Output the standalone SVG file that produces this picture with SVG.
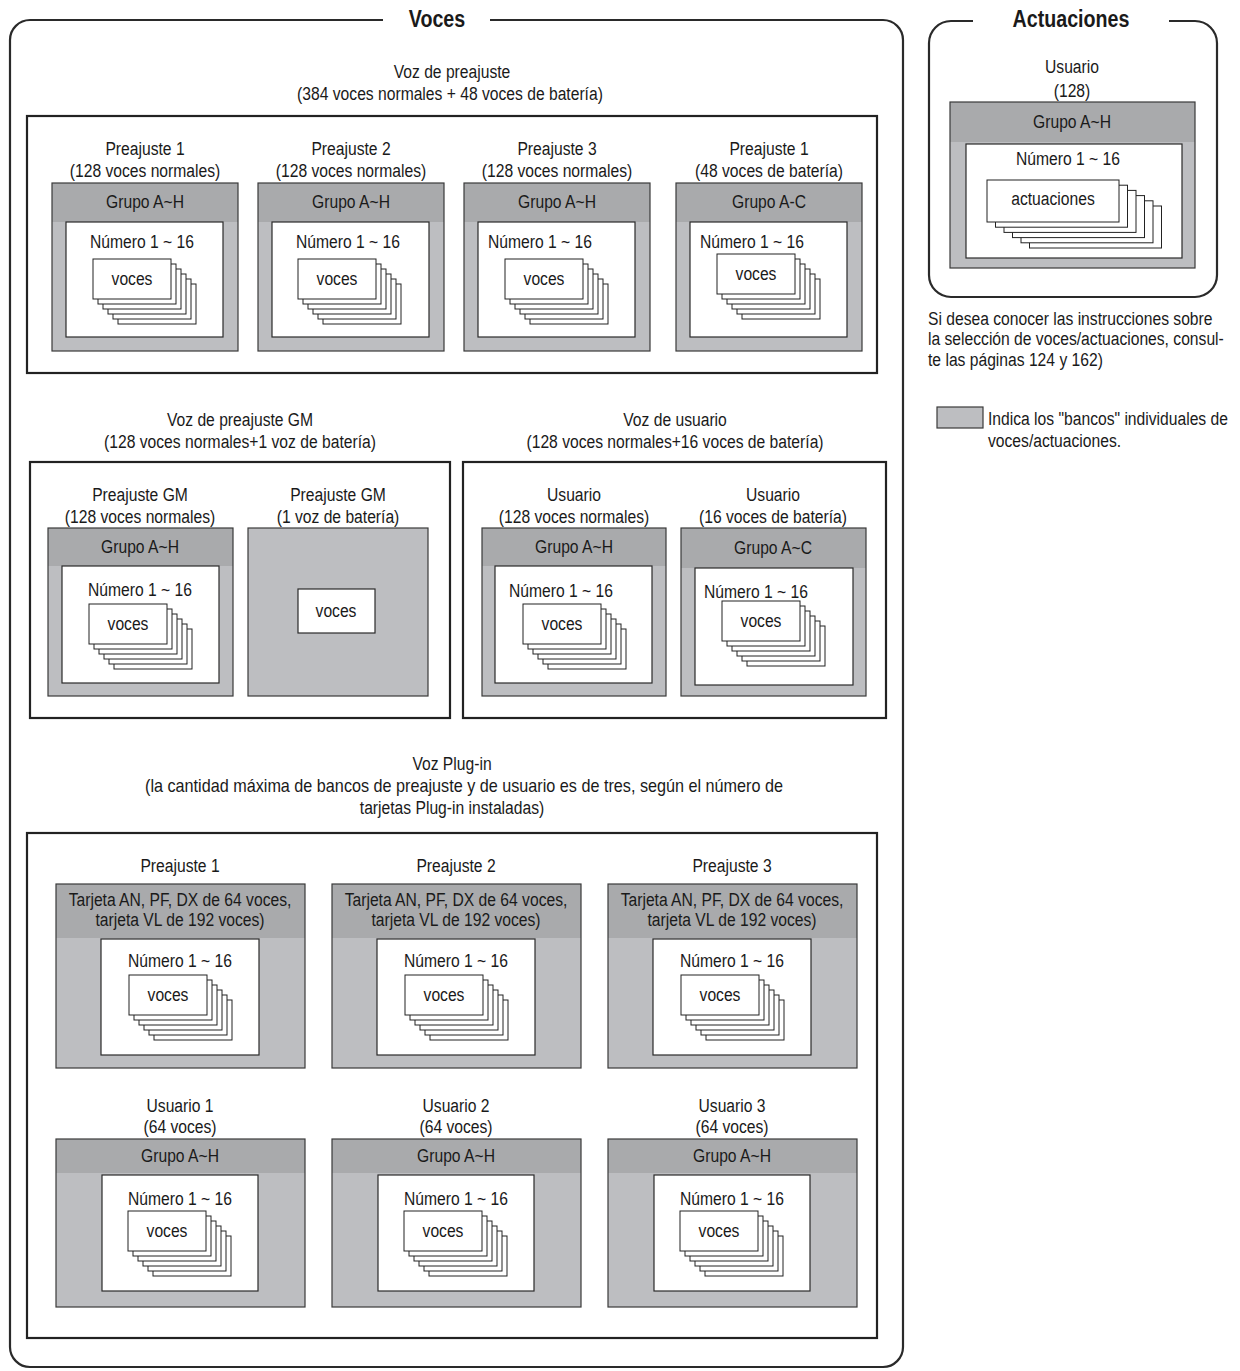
<svg xmlns="http://www.w3.org/2000/svg" xmlns:xlink="http://www.w3.org/1999/xlink" width="1240" height="1371" viewBox="0 0 1240 1371">
  <style>
    .t { font-family: "Liberation Sans", Arial, Helvetica, sans-serif; font-size: 18px; fill: #1a1a1a; text-anchor: middle; }
    .ts { font-family: "Liberation Sans", Arial, Helvetica, sans-serif; font-size: 18px; fill: #1a1a1a; text-anchor: start; }
    .title { font-family: "Liberation Sans", Arial, Helvetica, sans-serif; font-size: 24px; font-weight: bold; fill: #1a1a1a; text-anchor: middle; }
    .frame { fill: none; stroke: #2a2a2a; stroke-width: 2.2; }
    .section { fill: #ffffff; stroke: #222222; stroke-width: 2.2; }
    .body { fill: #bdbec1; }
    .head { fill: #a9aaac; }
    .edge { fill: none; stroke: #3a3a3a; stroke-width: 1.2; }
    .inner { fill: #ffffff; stroke: #2a2a2a; stroke-width: 1.2; }
    .card { fill: #ffffff; stroke: #222222; stroke-width: 1; }
  </style>
  <defs>
    <!-- stack of six voice cards, drawn back to front -->
    <g id="stk">
      <rect class="card" x="25" y="25" width="78" height="40"/>
      <rect class="card" x="20" y="20" width="78" height="40"/>
      <rect class="card" x="15" y="15" width="78" height="40"/>
      <rect class="card" x="10" y="10" width="78" height="40"/>
      <rect class="card" x="5" y="5" width="78" height="40"/>
      <rect class="card" x="0" y="0" width="78" height="40"/>
    </g>
    <!-- wider stack for performances -->
    <g id="stkA">
      <rect class="card" x="42.5" y="26" width="132" height="42"/>
      <rect class="card" x="34" y="20.8" width="132" height="42"/>
      <rect class="card" x="25.5" y="15.6" width="132" height="42"/>
      <rect class="card" x="17" y="10.4" width="132" height="42"/>
      <rect class="card" x="8.5" y="5.2" width="132" height="42"/>
      <rect class="card" x="0" y="0" width="132" height="42"/>
    </g>
  </defs>

  <rect width="1240" height="1371" fill="#ffffff"/>

  <!-- ===== Voces frame ===== -->
  <g id="voces-frame">
    <path class="frame" d="M383,20 H30 A20,20 0 0 0 10,40 V1347 A20,20 0 0 0 30,1367 H883 A20,20 0 0 0 903,1347 V40 A20,20 0 0 0 883,20 H490"/>
    <text class="title" transform="matrix(0.82 0 0 1 437 27)">Voces</text>
  </g>

  <!-- ===== Actuaciones frame ===== -->
  <g id="actuaciones-frame">
    <path class="frame" d="M973,21 H951 A22,22 0 0 0 929,43 V275 A22,22 0 0 0 951,297 H1195 A22,22 0 0 0 1217,275 V43 A22,22 0 0 0 1195,21 H1169"/>
    <text class="title" transform="matrix(0.82 0 0 1 1071 27)">Actuaciones</text>
  </g>

  <g id="perf-user">
    <text class="t" transform="matrix(0.87 0 0 1 1072 73)">Usuario</text>
    <text class="t" transform="matrix(0.87 0 0 1 1072 97)">(128)</text>
    <rect class="body" x="950" y="102" width="245" height="166"/>
    <rect class="head" x="950" y="102" width="245" height="40"/>
    <rect class="edge" x="950" y="102" width="245" height="166"/>
    <text class="t" transform="matrix(0.87 0 0 1 1072 128)">Grupo A~H</text>
    <rect class="inner" x="966" y="144" width="216" height="114"/>
    <text class="t" transform="matrix(0.87 0 0 1 1068 165)">Número 1 ~ 16</text>
    <use xlink:href="#stkA" x="987" y="180"/>
    <text class="t" transform="matrix(0.87 0 0 1 1053 205)">actuaciones</text>
  </g>

  <g id="note">
    <text class="ts" transform="matrix(0.87 0 0 1 928 325)">Si desea conocer las instrucciones sobre</text>
    <text class="ts" transform="matrix(0.87 0 0 1 928 345)">la selección de voces/actuaciones, consul-</text>
    <text class="ts" transform="matrix(0.87 0 0 1 928 366)">te las páginas 124 y 162)</text>
  </g>

  <g id="legend">
    <rect x="937" y="407" width="46" height="21" fill="#bdbec1" stroke="#3a3a3a" stroke-width="1.2"/>
    <text class="ts" transform="matrix(0.87 0 0 1 988 425)">Indica los "bancos" individuales de</text>
    <text class="ts" transform="matrix(0.87 0 0 1 988 447)">voces/actuaciones.</text>
  </g>

  <!-- ===== Preset voices ===== -->
  <g id="preset">
    <text class="t" transform="matrix(0.87 0 0 1 452 78)">Voz de preajuste</text>
    <text class="t" transform="matrix(0.87 0 0 1 450 100)">(384 voces normales + 48 voces de batería)</text>
    <rect class="section" x="27" y="116" width="850" height="257"/>
  </g>

  <g id="preset-1">
    <text class="t" transform="matrix(0.87 0 0 1 145 155)">Preajuste 1</text>
    <text class="t" transform="matrix(0.87 0 0 1 145 177)">(128 voces normales)</text>
    <rect class="body" x="52" y="183" width="186" height="168"/>
    <rect class="head" x="52" y="183" width="186" height="39"/>
    <rect class="edge" x="52" y="183" width="186" height="168"/>
    <text class="t" transform="matrix(0.87 0 0 1 145 208)">Grupo A~H</text>
    <rect class="inner" x="66" y="222" width="157" height="115"/>
    <text class="t" transform="matrix(0.87 0 0 1 142 248)">Número 1 ~ 16</text>
    <use xlink:href="#stk" x="93" y="259"/>
    <text class="t" transform="matrix(0.87 0 0 1 132 285)">voces</text>
  </g>

  <g id="preset-2">
    <text class="t" transform="matrix(0.87 0 0 1 351 155)">Preajuste 2</text>
    <text class="t" transform="matrix(0.87 0 0 1 351 177)">(128 voces normales)</text>
    <rect class="body" x="258" y="183" width="186" height="168"/>
    <rect class="head" x="258" y="183" width="186" height="39"/>
    <rect class="edge" x="258" y="183" width="186" height="168"/>
    <text class="t" transform="matrix(0.87 0 0 1 351 208)">Grupo A~H</text>
    <rect class="inner" x="272" y="222" width="157" height="115"/>
    <text class="t" transform="matrix(0.87 0 0 1 348 248)">Número 1 ~ 16</text>
    <use xlink:href="#stk" x="298" y="259"/>
    <text class="t" transform="matrix(0.87 0 0 1 337 285)">voces</text>
  </g>

  <g id="preset-3">
    <text class="t" transform="matrix(0.87 0 0 1 557 155)">Preajuste 3</text>
    <text class="t" transform="matrix(0.87 0 0 1 557 177)">(128 voces normales)</text>
    <rect class="body" x="464" y="183" width="186" height="168"/>
    <rect class="head" x="464" y="183" width="186" height="39"/>
    <rect class="edge" x="464" y="183" width="186" height="168"/>
    <text class="t" transform="matrix(0.87 0 0 1 557 208)">Grupo A~H</text>
    <rect class="inner" x="478" y="222" width="157" height="115"/>
    <text class="t" transform="matrix(0.87 0 0 1 540 248)">Número 1 ~ 16</text>
    <use xlink:href="#stk" x="505" y="259"/>
    <text class="t" transform="matrix(0.87 0 0 1 544 285)">voces</text>
  </g>

  <g id="preset-drum">
    <text class="t" transform="matrix(0.87 0 0 1 769 155)">Preajuste 1</text>
    <text class="t" transform="matrix(0.87 0 0 1 769 177)">(48 voces de batería)</text>
    <rect class="body" x="676" y="183" width="186" height="168"/>
    <rect class="head" x="676" y="183" width="186" height="39"/>
    <rect class="edge" x="676" y="183" width="186" height="168"/>
    <text class="t" transform="matrix(0.87 0 0 1 769 208)">Grupo A-C</text>
    <rect class="inner" x="690" y="222" width="157" height="115"/>
    <text class="t" transform="matrix(0.87 0 0 1 752 248)">Número 1 ~ 16</text>
    <use xlink:href="#stk" x="717" y="254"/>
    <text class="t" transform="matrix(0.87 0 0 1 756 280)">voces</text>
  </g>

  <!-- ===== GM preset voices ===== -->
  <g id="gm">
    <text class="t" transform="matrix(0.87 0 0 1 240 426)">Voz de preajuste GM</text>
    <text class="t" transform="matrix(0.87 0 0 1 240 448)">(128 voces normales+1 voz de batería)</text>
    <rect class="section" x="30" y="462" width="420" height="256"/>
  </g>

  <g id="gm-normal">
    <text class="t" transform="matrix(0.87 0 0 1 140 501)">Preajuste GM</text>
    <text class="t" transform="matrix(0.87 0 0 1 140 523)">(128 voces normales)</text>
    <rect class="body" x="48" y="528" width="185" height="168"/>
    <rect class="head" x="48" y="528" width="185" height="38"/>
    <rect class="edge" x="48" y="528" width="185" height="168"/>
    <text class="t" transform="matrix(0.87 0 0 1 140 553)">Grupo A~H</text>
    <rect class="inner" x="62" y="566" width="157" height="117"/>
    <text class="t" transform="matrix(0.87 0 0 1 140 596)">Número 1 ~ 16</text>
    <use xlink:href="#stk" x="89" y="604"/>
    <text class="t" transform="matrix(0.87 0 0 1 128 630)">voces</text>
  </g>

  <g id="gm-drum">
    <text class="t" transform="matrix(0.87 0 0 1 338 501)">Preajuste GM</text>
    <text class="t" transform="matrix(0.87 0 0 1 338 523)">(1 voz de batería)</text>
    <rect class="body" x="248" y="528" width="180" height="168"/>
    <rect class="edge" x="248" y="528" width="180" height="168"/>
    <rect class="inner" x="298" y="589" width="77" height="44"/>
    <text class="t" transform="matrix(0.87 0 0 1 336 617)">voces</text>
  </g>

  <!-- ===== User voices ===== -->
  <g id="user">
    <text class="t" transform="matrix(0.87 0 0 1 675 426)">Voz de usuario</text>
    <text class="t" transform="matrix(0.87 0 0 1 675 448)">(128 voces normales+16 voces de batería)</text>
    <rect class="section" x="463" y="462" width="423" height="256"/>
  </g>

  <g id="user-normal">
    <text class="t" transform="matrix(0.87 0 0 1 574 501)">Usuario</text>
    <text class="t" transform="matrix(0.87 0 0 1 574 523)">(128 voces normales)</text>
    <rect class="body" x="482" y="528" width="184" height="168"/>
    <rect class="head" x="482" y="528" width="184" height="38"/>
    <rect class="edge" x="482" y="528" width="184" height="168"/>
    <text class="t" transform="matrix(0.87 0 0 1 574 553)">Grupo A~H</text>
    <rect class="inner" x="495" y="566" width="157" height="117"/>
    <text class="t" transform="matrix(0.87 0 0 1 561 597)">Número 1 ~ 16</text>
    <use xlink:href="#stk" x="523" y="604"/>
    <text class="t" transform="matrix(0.87 0 0 1 562 630)">voces</text>
  </g>

  <g id="user-drum">
    <text class="t" transform="matrix(0.87 0 0 1 773 501)">Usuario</text>
    <text class="t" transform="matrix(0.87 0 0 1 773 523)">(16 voces de batería)</text>
    <rect class="body" x="681" y="528" width="185" height="168"/>
    <rect class="head" x="681" y="528" width="185" height="40"/>
    <rect class="edge" x="681" y="528" width="185" height="168"/>
    <text class="t" transform="matrix(0.87 0 0 1 773 554)">Grupo A~C</text>
    <rect class="inner" x="695" y="568" width="158" height="117"/>
    <text class="t" transform="matrix(0.87 0 0 1 756 598)">Número 1 ~ 16</text>
    <use xlink:href="#stk" x="722" y="601"/>
    <text class="t" transform="matrix(0.87 0 0 1 761 627)">voces</text>
  </g>

  <!-- ===== Plug-in voices ===== -->
  <g id="plugin">
    <text class="t" transform="matrix(0.87 0 0 1 452 770)">Voz Plug-in</text>
    <text class="t" transform="matrix(0.9 0 0 1 464 792)">(la cantidad máxima de bancos de preajuste y de usuario es de tres, según el número de</text>
    <text class="t" transform="matrix(0.87 0 0 1 452 814)">tarjetas Plug-in instaladas)</text>
    <rect class="section" x="27" y="833" width="850" height="505"/>
  </g>

  <g id="plugin-preset-1">
    <text class="t" transform="matrix(0.87 0 0 1 180 872)">Preajuste 1</text>
    <rect class="body" x="56" y="884" width="249" height="184"/>
    <rect class="head" x="56" y="884" width="249" height="54"/>
    <rect class="edge" x="56" y="884" width="249" height="184"/>
    <text class="t" transform="matrix(0.87 0 0 1 180 906)">Tarjeta AN, PF, DX de 64 voces,</text>
    <text class="t" transform="matrix(0.87 0 0 1 180 926)">tarjeta VL de 192 voces)</text>
    <rect class="inner" x="101" y="939" width="158" height="116"/>
    <text class="t" transform="matrix(0.87 0 0 1 180 967)">Número 1 ~ 16</text>
    <use xlink:href="#stk" x="129" y="975"/>
    <text class="t" transform="matrix(0.87 0 0 1 168 1001)">voces</text>
  </g>

  <g id="plugin-preset-2">
    <text class="t" transform="matrix(0.87 0 0 1 456 872)">Preajuste 2</text>
    <rect class="body" x="332" y="884" width="249" height="184"/>
    <rect class="head" x="332" y="884" width="249" height="54"/>
    <rect class="edge" x="332" y="884" width="249" height="184"/>
    <text class="t" transform="matrix(0.87 0 0 1 456 906)">Tarjeta AN, PF, DX de 64 voces,</text>
    <text class="t" transform="matrix(0.87 0 0 1 456 926)">tarjeta VL de 192 voces)</text>
    <rect class="inner" x="377" y="939" width="158" height="116"/>
    <text class="t" transform="matrix(0.87 0 0 1 456 967)">Número 1 ~ 16</text>
    <use xlink:href="#stk" x="405" y="975"/>
    <text class="t" transform="matrix(0.87 0 0 1 444 1001)">voces</text>
  </g>

  <g id="plugin-preset-3">
    <text class="t" transform="matrix(0.87 0 0 1 732 872)">Preajuste 3</text>
    <rect class="body" x="608" y="884" width="249" height="184"/>
    <rect class="head" x="608" y="884" width="249" height="54"/>
    <rect class="edge" x="608" y="884" width="249" height="184"/>
    <text class="t" transform="matrix(0.87 0 0 1 732 906)">Tarjeta AN, PF, DX de 64 voces,</text>
    <text class="t" transform="matrix(0.87 0 0 1 732 926)">tarjeta VL de 192 voces)</text>
    <rect class="inner" x="653" y="939" width="158" height="116"/>
    <text class="t" transform="matrix(0.87 0 0 1 732 967)">Número 1 ~ 16</text>
    <use xlink:href="#stk" x="681" y="975"/>
    <text class="t" transform="matrix(0.87 0 0 1 720 1001)">voces</text>
  </g>

  <g id="plugin-user-1">
    <text class="t" transform="matrix(0.87 0 0 1 180 1112)">Usuario 1</text>
    <text class="t" transform="matrix(0.87 0 0 1 180 1133)">(64 voces)</text>
    <rect class="body" x="56" y="1139" width="249" height="168"/>
    <rect class="head" x="56" y="1139" width="249" height="34"/>
    <rect class="edge" x="56" y="1139" width="249" height="168"/>
    <text class="t" transform="matrix(0.87 0 0 1 180 1162)">Grupo A~H</text>
    <rect class="inner" x="102" y="1175" width="156" height="116"/>
    <text class="t" transform="matrix(0.87 0 0 1 180 1205)">Número 1 ~ 16</text>
    <use xlink:href="#stk" x="128" y="1211"/>
    <text class="t" transform="matrix(0.87 0 0 1 167 1237)">voces</text>
  </g>

  <g id="plugin-user-2">
    <text class="t" transform="matrix(0.87 0 0 1 456 1112)">Usuario 2</text>
    <text class="t" transform="matrix(0.87 0 0 1 456 1133)">(64 voces)</text>
    <rect class="body" x="332" y="1139" width="249" height="168"/>
    <rect class="head" x="332" y="1139" width="249" height="34"/>
    <rect class="edge" x="332" y="1139" width="249" height="168"/>
    <text class="t" transform="matrix(0.87 0 0 1 456 1162)">Grupo A~H</text>
    <rect class="inner" x="378" y="1175" width="156" height="116"/>
    <text class="t" transform="matrix(0.87 0 0 1 456 1205)">Número 1 ~ 16</text>
    <use xlink:href="#stk" x="404" y="1211"/>
    <text class="t" transform="matrix(0.87 0 0 1 443 1237)">voces</text>
  </g>

  <g id="plugin-user-3">
    <text class="t" transform="matrix(0.87 0 0 1 732 1112)">Usuario 3</text>
    <text class="t" transform="matrix(0.87 0 0 1 732 1133)">(64 voces)</text>
    <rect class="body" x="608" y="1139" width="249" height="168"/>
    <rect class="head" x="608" y="1139" width="249" height="34"/>
    <rect class="edge" x="608" y="1139" width="249" height="168"/>
    <text class="t" transform="matrix(0.87 0 0 1 732 1162)">Grupo A~H</text>
    <rect class="inner" x="654" y="1175" width="156" height="116"/>
    <text class="t" transform="matrix(0.87 0 0 1 732 1205)">Número 1 ~ 16</text>
    <use xlink:href="#stk" x="680" y="1211"/>
    <text class="t" transform="matrix(0.87 0 0 1 719 1237)">voces</text>
  </g>

  <!-- no connectors in this chart -->
  <g id="connectors"/>
</svg>
